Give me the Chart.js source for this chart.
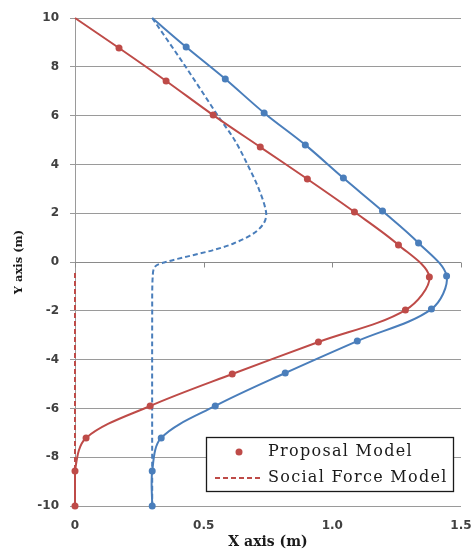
<!DOCTYPE html>
<html>
<head>
<meta charset="utf-8">
<script src="https://cdn.jsdelivr.net/npm/chart.js@4/dist/chart.umd.min.js"></script>
<style>
  html, body { margin: 0; padding: 0; background: #ffffff; }
  #wrap { width: 471px; height: 551px; }
</style>
</head>
<body>
<div id="wrap"><canvas id="chart" width="471" height="551"></canvas></div>
<script>
// Axis ranges and ticks
const xRange = [0, 1.5];
const xStep = 0.5;
const yRange = [-10, 10];
const yStep = 2;

// Pedestrian 1 (red), proposal model trajectory
const redProposalX = [0, 0.171, 0.354, 0.537, 0.720, 0.903, 1.086, 1.257, 1.377, 1.284, 0.946, 0.611, 0.292, 0.043, 0, 0];
const redProposalY = [10, 8.77, 7.42, 6.02, 4.71, 3.40, 2.05, 0.70, -0.61, -1.97, -3.28, -4.59, -5.90, -7.21, -8.57, -10];

// Pedestrian 1 (red), social force model trajectory
const redSocialX = [0, 0];
const redSocialY = [-0.45, -10];

// Pedestrian 2 (blue), proposal model trajectory
const blueProposalX = [0.30, 0.432, 0.584, 0.735, 0.895, 1.043, 1.195, 1.335, 1.444, 1.385, 1.097, 0.817, 0.545, 0.335, 0.30, 0.30];
const blueProposalY = [10, 8.81, 7.50, 6.11, 4.80, 3.44, 2.09, 0.78, -0.57, -1.93, -3.24, -4.55, -5.90, -7.21, -8.57, -10];

// Pedestrian 2 (blue), social force model trajectory
const blueSocialX = [0.30, 0.43, 0.555, 0.62, 0.67, 0.716, 0.743, 0.733, 0.694, 0.616, 0.538, 0.435, 0.357, 0.311, 0.302, 0.30, 0.30];
const blueSocialY = [10, 8, 6, 5, 4, 2.95, 2, 1.58, 1.17, 0.76, 0.49, 0.22, 0.01, -0.19, -0.6, -2, -10];

// Legend entries
const legendLabels = ['Proposal Model', 'Social Force Model'];

const RED = '#BE4B48';
const BLUE = '#4A7EBB';
const GRID = '#9a9a9a';

function pts(xs, ys) { return xs.map((x, i) => ({ x: x, y: ys[i] })); }

// Small tick marks hanging below the horizontal axis at y = 0
const zeroAxisTicks = {
  id: 'zeroAxisTicks',
  beforeDatasetsDraw(chart) {
    const { ctx, scales: { x, y } } = chart;
    const y0 = Math.round(y.getPixelForValue(0)) + 0.5;
    ctx.save();
    ctx.strokeStyle = '#8a8a8a';
    ctx.lineWidth = 1;
    ctx.beginPath();
    ctx.moveTo(x.left, y0);
    ctx.lineTo(x.right, y0);
    x.ticks.forEach(t => {
      const px = Math.round(x.getPixelForValue(t.value)) + 0.5;
      ctx.moveTo(px, y0);
      ctx.lineTo(px, y0 + 5);
    });
    ctx.stroke();
    ctx.restore();
  }
};

// Boxed legend inside the plot, lower right
const boxedLegend = {
  id: 'boxedLegend',
  afterDraw(chart) {
    const { ctx, chartArea } = chart;
    const w = 247, h = 54;
    const left = chartArea.right - 8 - w;
    const top = chartArea.bottom - 15 - h;
    ctx.save();
    ctx.fillStyle = '#ffffff';
    ctx.fillRect(left, top, w, h);
    ctx.strokeStyle = '#1a1a1a';
    ctx.lineWidth = 1.3;
    ctx.strokeRect(left + 0.5, top + 0.5, w, h);

    const row1 = top + 15;
    const row2 = top + 41;
    // marker entry
    ctx.fillStyle = RED;
    ctx.beginPath();
    ctx.arc(left + 33, row1, 3.5, 0, Math.PI * 2);
    ctx.fill();
    // dashed line entry
    ctx.strokeStyle = RED;
    ctx.lineWidth = 2;
    ctx.setLineDash([5, 3]);
    ctx.beginPath();
    ctx.moveTo(left + 9, row2);
    ctx.lineTo(left + 57, row2);
    ctx.stroke();
    ctx.setLineDash([]);

    ctx.fillStyle = '#1a1a1a';
    ctx.font = '16px "DejaVu Serif"';
    ctx.letterSpacing = '1.3px';
    ctx.textBaseline = 'middle';
    ctx.textAlign = 'left';
    ctx.fillText(legendLabels[0], left + 62, row1);
    ctx.fillText(legendLabels[1], left + 62, row2);
    ctx.restore();
  }
};

const tickFont = { family: 'DejaVu Sans', size: 12, weight: 'bold' };

new Chart(document.getElementById('chart'), {
  type: 'scatter',
  data: {
    datasets: [
      {
        label: legendLabels[0],
        data: pts(redProposalX, redProposalY),
        showLine: true,
        borderColor: RED,
        backgroundColor: RED,
        borderWidth: 2,
        tension: 0.33,
        pointRadius: ctx => ctx.dataIndex === 0 ? 0 : 3.5,
        pointBorderWidth: 0,
        clip: false
      },
      {
        label: legendLabels[1],
        data: pts(redSocialX, redSocialY),
        showLine: true,
        borderColor: RED,
        backgroundColor: RED,
        borderWidth: 2,
        borderDash: [5, 3],
        pointRadius: 0,
        clip: false
      },
      {
        label: legendLabels[0],
        data: pts(blueProposalX, blueProposalY),
        showLine: true,
        borderColor: BLUE,
        backgroundColor: BLUE,
        borderWidth: 2,
        tension: 0.33,
        pointRadius: ctx => ctx.dataIndex === 0 ? 0 : 3.5,
        pointBorderWidth: 0,
        clip: false
      },
      {
        label: legendLabels[1],
        data: pts(blueSocialX, blueSocialY),
        showLine: true,
        borderColor: BLUE,
        backgroundColor: BLUE,
        borderWidth: 2,
        borderDash: [5, 3],
        tension: 0.33,
        pointRadius: 0,
        clip: false
      }
    ]
  },
  options: {
    responsive: false,
    animation: false,
    layout: { padding: { top: 18, right: 10, left: 0, bottom: 0 } },
    plugins: {
      legend: { display: false },
      tooltip: { enabled: false }
    },
    scales: {
      x: {
        type: 'linear',
        min: xRange[0],
        max: xRange[1],
        ticks: { stepSize: xStep, font: tickFont, color: '#404040', padding: 5, maxRotation: 0 },
        grid: { display: false },
        border: { display: false },
        title: { display: true, text: 'X axis (m)', font: { family: 'DejaVu Serif', size: 14, weight: 'bold' }, color: '#1a1a1a', padding: { top: 0, bottom: 0 } },
        afterFit: s => { s.height = 45; s.paddingLeft = 0; s.paddingRight = 0; }
      },
      y: {
        type: 'linear',
        min: yRange[0],
        max: yRange[1],
        ticks: { stepSize: yStep, font: tickFont, color: '#404040', padding: 11 },
        grid: { color: GRID, lineWidth: 1, tickLength: 5, drawTicks: true },
        border: { display: true, color: GRID, width: 1 },
        title: { display: true, text: 'Y axis (m)', font: { family: 'DejaVu Serif', size: 11.5, weight: 'bold' }, color: '#1a1a1a', padding: { top: 12, bottom: 0 } },
        afterFit: s => { s.width = 75; s.paddingTop = 0; s.paddingBottom = 0; }
      }
    }
  },
  plugins: [zeroAxisTicks, boxedLegend]
});
</script>
</body>
</html>
